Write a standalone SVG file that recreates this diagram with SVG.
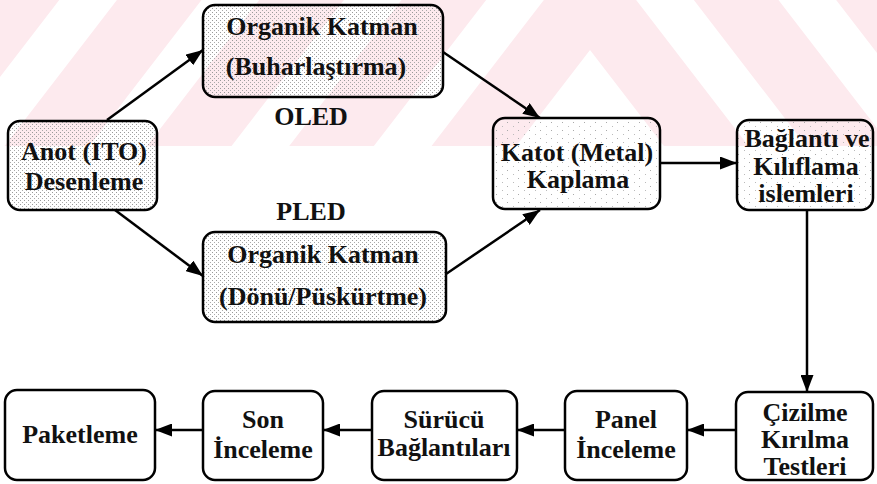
<svg xmlns="http://www.w3.org/2000/svg" width="877" height="484" viewBox="0 0 877 484">
<style>
.box{stroke:#000;stroke-width:2.5}
.plain{fill:#fff}
.dense{fill:url(#dense)}
.sparse{fill:url(#sparse)}
text{font-family:"Liberation Serif","Times New Roman",serif;font-weight:bold;font-size:26px;fill:#111;text-anchor:middle}
.wm{fill:#fdeaee}
#connectors path{stroke:#000;stroke-width:2.5;fill:none;marker-end:url(#ah)}
</style>
<defs>
<pattern id="dense" width="4" height="4" patternUnits="userSpaceOnUse">
<rect x="0" y="0" width="1" height="1" fill="#999"/>
<rect x="2" y="2" width="1" height="1" fill="#aaa"/>
</pattern>
<pattern id="sparse" width="11" height="8" patternUnits="userSpaceOnUse">
<rect x="1" y="2" width="1" height="1" fill="#aaa"/>
<rect x="7" y="6" width="1" height="1" fill="#bbb"/>
</pattern>
<clipPath id="band"><rect x="0" y="0" width="877" height="146"/></clipPath>
<marker id="ah" markerWidth="17" markerHeight="13" refX="17" refY="6.5" orient="auto" markerUnits="userSpaceOnUse">
<path d="M0,0 L17,6.5 L0,13 z" fill="#000"/>
</marker>
</defs>

<g id="watermark" clip-path="url(#band)">
<polygon class="wm" points="-600,1487 590,-60 1780,1487 1780,1597 590,50 -600,1597"/>
<polygon class="wm" points="-600,1302 590,-245 1780,1302 1780,1412 590,-135 -600,1412"/>
<polygon class="wm" points="-600,1117 590,-430 1780,1117 1780,1227 590,-320 -600,1227"/>
<polygon class="wm" points="-600,932 590,-615 1780,932 1780,1042 590,-505 -600,1042"/>
<polygon class="wm" points="-600,747 590,-800 1780,747 1780,857 590,-690 -600,857"/>
</g>

<g id="connectors">
<path d="M107,120 L203,50"/>
<path d="M115,210 L203,276"/>
<path d="M443,52 L540,118"/>
<path d="M446,274 L540,210"/>
<path d="M660,163 L737,163"/>
<path d="M807,210 L807,392"/>
<path d="M736,430 L687,430"/>
<path d="M565,430 L517,430"/>
<path d="M372,430 L323,430"/>
<path d="M203,430 L155,430"/>
</g>

<g id="node-anot">
<rect class="box dense" x="8" y="121" width="149" height="89" rx="12"/>
<text x="84" y="160">Anot (ITO)</text>
<text x="84" y="190">Desenleme</text>
</g>
<g id="node-organik-oled">
<rect class="box dense" x="203" y="5" width="240" height="92" rx="12"/>
<text x="322" y="35">Organik Katman</text>
<text x="316" y="75">(Buharlaştırma)</text>
</g>
<g id="label-oled"><text x="311" y="125">OLED</text></g>
<g id="label-pled"><text x="311" y="220">PLED</text></g>
<g id="node-organik-pled">
<rect class="box dense" x="203" y="232" width="243" height="90" rx="12"/>
<text x="323" y="263">Organik Katman</text>
<text x="323" y="305">(Dönü/Püskürtme)</text>
</g>
<g id="node-katot">
<rect class="box sparse" x="493" y="118" width="167" height="91" rx="12"/>
<text x="577" y="161">Katot (Metal)</text>
<text x="578" y="188">Kaplama</text>
</g>
<g id="node-baglanti">
<rect class="box sparse" x="737" y="120" width="136" height="90" rx="12"/>
<text x="807" y="147">Bağlantı ve</text>
<text x="806" y="175">Kılıflama</text>
<text x="806" y="202">islemleri</text>
</g>
<g id="node-cizilme">
<rect class="box plain" x="736" y="392" width="137" height="88" rx="12"/>
<text x="805" y="421">Çizilme</text>
<text x="805" y="448">Kırılma</text>
<text x="805" y="475">Testleri</text>
</g>
<g id="node-panel">
<rect class="box plain" x="565" y="391" width="122" height="89" rx="12"/>
<text x="626" y="428">Panel</text>
<text x="626" y="458">İnceleme</text>
</g>
<g id="node-surucu">
<rect class="box plain" x="372" y="391" width="145" height="89" rx="12"/>
<text x="444" y="428">Sürücü</text>
<text x="444" y="456">Bağlantıları</text>
</g>
<g id="node-son">
<rect class="box plain" x="203" y="391" width="120" height="89" rx="12"/>
<text x="263" y="428">Son</text>
<text x="263" y="458">İnceleme</text>
</g>
<g id="node-paketleme">
<rect class="box plain" x="5" y="390" width="150" height="90" rx="12"/>
<text x="80" y="443">Paketleme</text>
</g>
</svg>
